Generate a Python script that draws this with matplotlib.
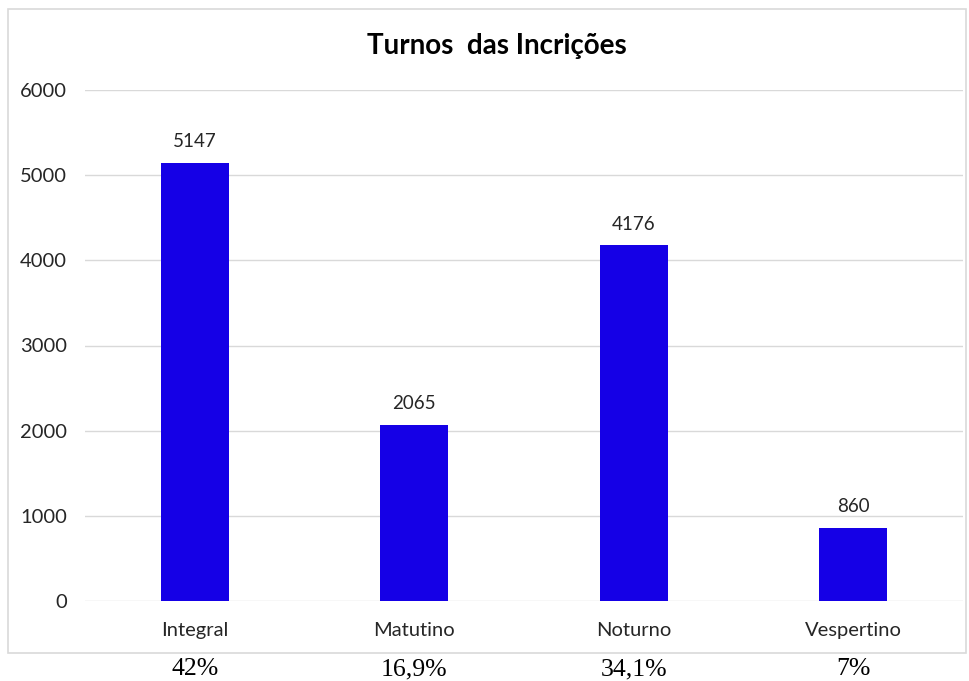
import matplotlib.pyplot as plt
from matplotlib.patches import Rectangle

# Data
turnos = ['Integral', 'Matutino', 'Noturno', 'Vespertino']
inscricoes = [5147, 2065, 4176, 860]
percentuais = ['42%', '16,9%', '34,1%', '7%']

W, H = 970, 681
fig = plt.figure(figsize=(W / 100, H / 100), dpi=100)
plt.rcParams['font.family'] = ['Lato', 'DejaVu Sans']
txt = '#262626'

# chart area border (Excel style)
fig.patches.append(Rectangle((8 / W, 1 - 653 / H), (966 - 8) / W, (653 - 9) / H,
                             transform=fig.transFigure, fill=False,
                             edgecolor='#d9d9d9', linewidth=1.2))

ax = fig.add_axes([85 / W, 1 - 601 / H, (963 - 85) / W, (601 - 90) / H])
x = range(len(turnos))
bars = ax.bar(x, inscricoes, width=0.31, color='#1500E6', zorder=3)

for xi, v in zip(x, inscricoes):
    ax.text(xi, v + 150, str(v), ha='center', va='bottom', fontsize=13.5, color=txt)

ax.set_xlim(-0.5, len(turnos) - 0.5)
ax.set_ylim(0, 6000)
ax.set_yticks(range(0, 6001, 1000))
ax.set_xticks(list(x))
ax.set_xticklabels(turnos, fontsize=14.5, color=txt)
ax.tick_params(axis='y', labelsize=14.5, labelcolor=txt, length=0, pad=13)
ax.tick_params(axis='x', length=0, pad=15)
ax.grid(axis='y', color='#d9d9d9', linewidth=1, zorder=0)
for s in ax.spines.values():
    s.set_visible(False)

fig.text(497 / W, 1 - 46 / H, 'Turnos  das Incrições', ha='center', va='center',
         fontsize=20, fontweight='bold', color='black')

# percentages below the chart
for xi, p in zip(x, percentuais):
    xf = fig.transFigure.inverted().transform(ax.transData.transform((xi, 0)))[0]
    fig.text(xf, 1 - 669 / H, p, ha='center', va='center', fontsize=18.5,
             family=['Liberation Serif'], color='black')

fig.savefig('out.png', dpi=100)
